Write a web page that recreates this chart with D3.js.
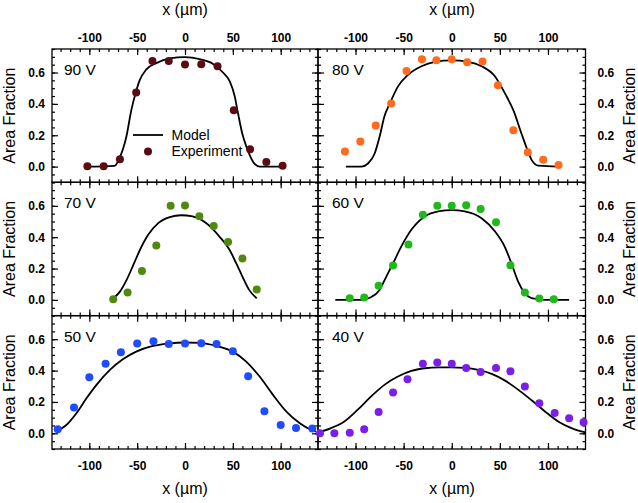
<!DOCTYPE html>
<html><head><meta charset="utf-8">
<script src="https://cdn.jsdelivr.net/npm/d3@7"></script>
<style>
html,body{margin:0;padding:0;background:#fff;}
svg text{font-family:"Liberation Sans",Arial,sans-serif;}
.tick text{font-weight:bold;font-size:12px;fill:#000;}
</style></head>
<body>
<svg id="chart" width="638" height="503"></svg>
<script>
// ---------- data ----------
const panelLabels = ["90 V", "80 V", "70 V", "60 V", "50 V", "40 V"];
const xTickValues = [-100, -50, 0, 50, 100];
const yTickValues = [0.0, 0.2, 0.4, 0.6];
const legendLabels = ["Model", "Experiment"];

const exp90x = [-102,-85,-68,-51,-34,-17,0,17,34,51,68,85,102];
const exp90y = [0.002,0.002,0.047,0.472,0.674,0.674,0.651,0.653,0.640,0.36,0.11,0.03,0.006];
const mod90x = [-103,-73.5,-69,-61.3,-56.1,-51.6,-47.4,-40.4,-30,-16,0,15.3,29.3,39.7,46.7,51.9,55.4,59.9,64.1,68.3,72.8,78,102];
const mod90y = [0,0.005,0.047,0.19,0.36,0.47,0.55,0.62,0.66,0.69,0.698,0.685,0.655,0.6,0.545,0.45,0.34,0.21,0.128,0.064,0.017,0,0];

const exp80x = [-111,-95,-79,-63,-47,-31,-16,0,16,32,48,64,79,95,111];
const exp80y = [0.096,0.16,0.262,0.402,0.609,0.685,0.679,0.685,0.666,0.670,0.519,0.232,0.091,0.043,0.011];
const mod80x = [-110,-94,-87,-80,-75,-70,-64.5,-56,-45.5,-31.5,-17.5,0,17,31,45,55,64,72.5,78,83,90,111];
const mod80y = [0,0,0.02,0.085,0.19,0.32,0.40,0.51,0.585,0.64,0.668,0.677,0.668,0.64,0.575,0.47,0.36,0.21,0.117,0.043,0.006,0];

const exp70x = [-75,-60,-45,-30,-15,0,15,30,45,60,75];
const exp70y = [0.004,0.047,0.185,0.347,0.6,0.602,0.534,0.472,0.37,0.264,0.066];
const mod70x = [-75,-68,-61,-54,-47,-38.5,-28,-16,-4,8,22,36,46.5,53.5,60,67,75];
const mod70y = [0.01,0.053,0.128,0.223,0.32,0.415,0.49,0.528,0.54,0.532,0.49,0.404,0.32,0.234,0.149,0.064,0.01];

const exp60x = [-106,-91,-76,-61,-45,-30,-15,0,15,30,46,61,76,91,106];
const exp60y = [0.011,0.015,0.091,0.219,0.353,0.543,0.6,0.6,0.604,0.579,0.496,0.221,0.047,0.009,0.004];
const mod60x = [-121,-94,-84,-75,-68,-61,-52.5,-42,-28,-14,0,13.5,31,45,55,62,69,76,83,97,122];
const mod60y = [0,0,0.017,0.064,0.149,0.234,0.34,0.447,0.532,0.564,0.572,0.564,0.521,0.436,0.34,0.234,0.117,0.043,0.011,0,0];

const exp50x = [-133,-116,-100,-83,-67,-50,-33,-17,0,17,33,50,66,83,100,116,133];
const exp50y = [0.026,0.164,0.357,0.443,0.517,0.572,0.587,0.570,0.572,0.574,0.570,0.523,0.364,0.14,0.053,0.034,0.03];
const mod50x = [-133,-124,-113.5,-103,-92.5,-78.5,-65,-51,-33.5,-16,0,15.3,33,50,64,78,92,106,120,132,137];
const mod50y = [0.017,0.053,0.128,0.223,0.309,0.404,0.472,0.521,0.557,0.574,0.579,0.577,0.557,0.521,0.457,0.362,0.245,0.138,0.064,0.021,0.01];

const exp40x = [-137,-122,-106,-91,-76,-61,-46,-30,-15,0,15,30,46,61,76,91,107,122,137];
const exp40y = [0,0,0.004,0.026,0.136,0.26,0.345,0.443,0.451,0.443,0.417,0.391,0.417,0.396,0.298,0.191,0.13,0.096,0.07];
const mod40x = [-139,-126,-112,-98,-84,-70,-56,-42,-28,-14,0,13.6,27.5,41.5,55.4,69.3,83.3,97.2,111,125,139];
const mod40y = [0.006,0.032,0.074,0.149,0.234,0.309,0.362,0.398,0.415,0.421,0.421,0.417,0.404,0.379,0.336,0.277,0.209,0.138,0.074,0.032,0.006];

const panelColors = ["#5b0c12", "#ff6a1c", "#4f8a0e", "#1fba1a", "#1f4cff", "#7a1fe8"];

// ---------- layout ----------
const svg = d3.select("#chart");
const colX = [52, 318], colW = [266, 267.5];
const rowY = [49, 182.3, 315.7], rowH = 133.3;
const xDomain = [-139, 139], yDomain = [-0.1, 0.75];

const panels = [
  {ex: exp90x, ey: exp90y, mx: mod90x, my: mod90y},
  {ex: exp80x, ey: exp80y, mx: mod80x, my: mod80y},
  {ex: exp70x, ey: exp70y, mx: mod70x, my: mod70y},
  {ex: exp60x, ey: exp60y, mx: mod60x, my: mod60y},
  {ex: exp50x, ey: exp50y, mx: mod50x, my: mod50y},
  {ex: exp40x, ey: exp40y, mx: mod40x, my: mod40y}
];

const xMinor = d3.range(-130, 131, 10);
const yMinor = d3.range(-0.1, 0.751, 0.05).map(v => +v.toFixed(2));

panels.forEach((p, i) => {
  const r = Math.floor(i / 2), c = i % 2;
  const x0 = colX[c], y0 = rowY[r], w = colW[c], h = rowH;
  const xs = d3.scaleLinear().domain(xDomain).range([0, w]);
  const ys = d3.scaleLinear().domain(yDomain).range([h, 0]);
  const g = svg.append("g").attr("transform", `translate(${x0},${y0})`);

  const clipId = "clip" + i;
  g.append("clipPath").attr("id", clipId).append("rect").attr("width", w).attr("height", h);

  const sides = [
    {mk: d3.axisBottom, sc: xs, tx: 0, ty: h, minor: xMinor, major: xTickValues, lab: r === 2, pad: 12},
    {mk: d3.axisTop, sc: xs, tx: 0, ty: 0, minor: xMinor, major: xTickValues, lab: r === 0, pad: 7},
    {mk: d3.axisLeft, sc: ys, tx: 0, ty: 0, minor: yMinor, major: yTickValues, lab: c === 0, pad: 7},
    {mk: d3.axisRight, sc: ys, tx: w, ty: 0, minor: yMinor, major: yTickValues, lab: c === 1, pad: 12}
  ];
  sides.forEach(s => {
    const gmin = g.append("g").attr("transform", `translate(${s.tx},${s.ty})`)
      .call(s.mk(s.sc).tickValues(s.minor).tickSize(-3).tickFormat(""));
    gmin.select(".domain").remove();
    gmin.selectAll(".tick line").attr("stroke", "#000").attr("stroke-width", 1.2);
    const gmaj = g.append("g").attr("transform", `translate(${s.tx},${s.ty})`)
      .call(s.mk(s.sc).tickValues(s.major).tickSize(-6).tickPadding(s.pad)
        .tickFormat(s.lab ? (s.sc === ys ? d3.format(".1f") : d3.format("d")) : ""));
    gmaj.select(".domain").remove();
    gmaj.selectAll(".tick line").attr("stroke", "#000").attr("stroke-width", 1.2);
    gmaj.selectAll(".tick text").text(function(){ return this.textContent.replace("\u2212", "-"); });
  });

  g.append("rect").attr("width", w).attr("height", h)
    .attr("fill", "none").attr("stroke", "#000").attr("stroke-width", 1.3);

  const line = d3.line().x(d => xs(d[0])).y(d => ys(d[1])).curve(d3.curveMonotoneX);
  g.append("path").datum(p.mx.map((v, k) => [v, p.my[k]]))
    .attr("clip-path", `url(#${clipId})`)
    .attr("d", line).attr("fill", "none").attr("stroke", "#000").attr("stroke-width", 1.8);

  g.selectAll("circle.pt").data(p.ex.map((v, k) => [v, p.ey[k]])).join("circle")
    .attr("class", "pt").attr("cx", d => xs(d[0])).attr("cy", d => ys(d[1]))
    .attr("r", 4).attr("fill", panelColors[i]);

  g.append("text").attr("x", c === 0 ? 12 : 14).attr("y", 26)
    .attr("font-size", 15.5).attr("fill", "#000").text(panelLabels[i]);

  if (i === 0) {
    g.append("line").attr("x1", 81).attr("x2", 111).attr("y1", 86).attr("y2", 86)
      .attr("stroke", "#000").attr("stroke-width", 1.8);
    g.append("circle").attr("cx", 96).attr("cy", 102.5).attr("r", 4).attr("fill", panelColors[0]);
    g.append("text").attr("x", 119.5).attr("y", 91).attr("font-size", 14).text(legendLabels[0]);
    g.append("text").attr("x", 119.5).attr("y", 107).attr("font-size", 14).text(legendLabels[1]);
  }
});

// axis titles
[185, 452].forEach(cx => {
  svg.append("text").attr("x", cx).attr("y", 15).attr("text-anchor", "middle")
    .attr("font-size", 16).text("x (\u00b5m)");
  svg.append("text").attr("x", cx).attr("y", 494).attr("text-anchor", "middle")
    .attr("font-size", 16).text("x (\u00b5m)");
});
rowY.forEach(ry => {
  const cy = ry + rowH / 2;
  svg.append("text").attr("transform", `translate(15,${cy}) rotate(-90)`)
    .attr("text-anchor", "middle").attr("font-size", 16).text("Area Fraction");
  svg.append("text").attr("transform", `translate(635,${cy}) rotate(-90)`)
    .attr("text-anchor", "middle").attr("font-size", 16).text("Area Fraction");
});
</script>
</body></html>
